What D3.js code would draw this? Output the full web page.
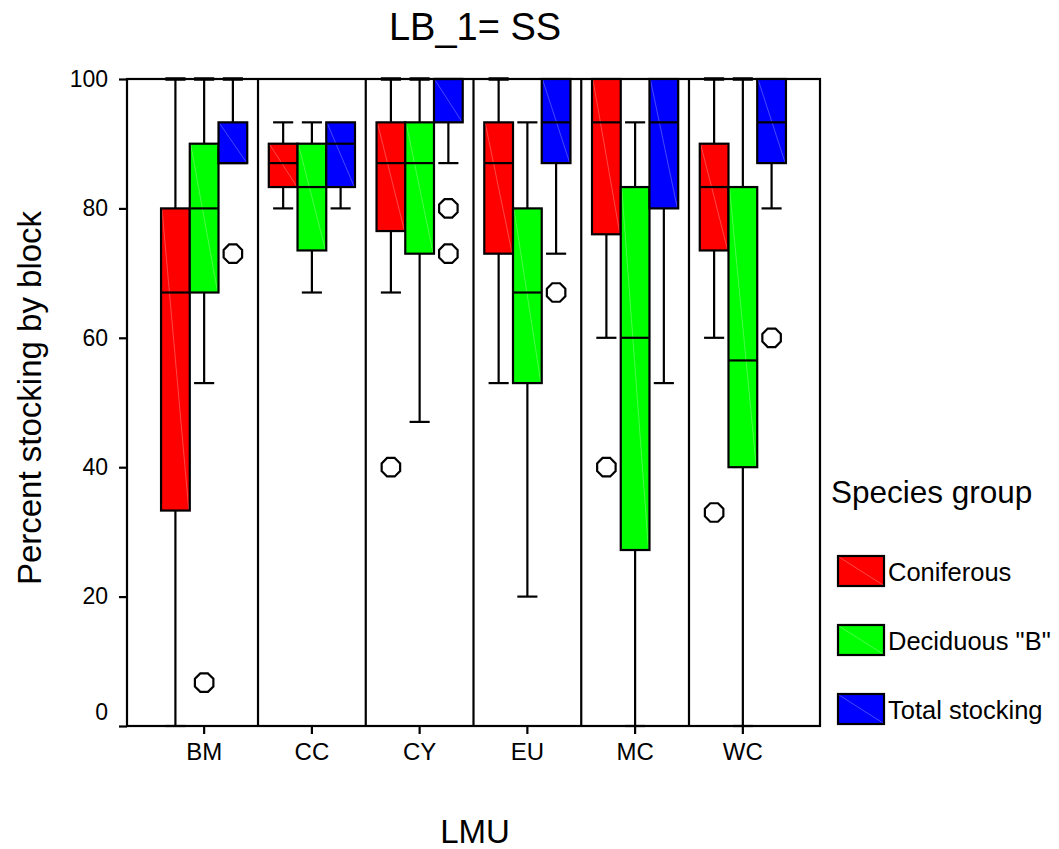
<!DOCTYPE html>
<html>
<head>
<meta charset="utf-8">
<script src="https://cdn.jsdelivr.net/npm/d3@7"></script>
<style>
  html, body { margin: 0; padding: 0; background: #fff; }
  svg { display: block; font-family: "Liberation Sans", Arial, sans-serif; }
</style>
</head>
<body>
<svg id="chart" width="1059" height="849"></svg>
<script>
// Land management units on the x axis
const categories = ["BM", "CC", "CY", "EU", "MC", "WC"];
// Species groups (one box per group in every unit)
const groups = ["Coniferous", "Deciduous \"B\"", "Total stocking"];
const groupColors = ["#ff0000", "#00ff00", "#0000ff"];
const yTicks = [0, 20, 40, 60, 80, 100];

// Five-number summaries per group, one value per unit
const coniferousLow    = [0, 80, 67, 53, 60, 60];
const coniferousQ1     = [33.3, 83.3, 76.5, 73, 76, 73.5];
const coniferousMedian = [67, 87, 87, 87, 93.3, 83.3];
const coniferousQ3     = [80, 90, 93.3, 93.3, 100, 90];
const coniferousHigh   = [100, 93.3, 100, 100, 100, 100];
const coniferousOut    = [[], [], [40], [], [40], [33]];

const deciduousLow     = [53, 67, 47, 20, 0, 0];
const deciduousQ1      = [67, 73.5, 73, 53, 27.2, 40];
const deciduousMedian  = [80, 83.3, 87, 67, 60, 56.5];
const deciduousQ3      = [90, 90, 93.3, 80, 83.3, 83.3];
const deciduousHigh    = [100, 93.3, 100, 93.3, 93.3, 100];
const deciduousOut     = [[6.7], [], [], [], [], []];

const totalLow         = [87, 80, 87, 73, 53, 80];
const totalQ1          = [87, 83.3, 93.3, 87, 80, 87];
const totalMedian      = [87, 90, 100, 93.3, 93.3, 93.3];
const totalQ3          = [93.3, 93.3, 100, 100, 100, 100];
const totalHigh        = [100, 93.3, 100, 100, 100, 100];
const totalOut         = [[73], [], [80, 73], [67], [], [60]];

const series = [
  { low: coniferousLow, q1: coniferousQ1, med: coniferousMedian, q3: coniferousQ3, high: coniferousHigh, out: coniferousOut },
  { low: deciduousLow,  q1: deciduousQ1,  med: deciduousMedian,  q3: deciduousQ3,  high: deciduousHigh,  out: deciduousOut },
  { low: totalLow,      q1: totalQ1,      med: totalMedian,      q3: totalQ3,      high: totalHigh,      out: totalOut }
];

const boxes = [];
series.forEach((s, gi) => {
  categories.forEach((c, ci) => {
    boxes.push({ cat: c, group: groups[gi], color: groupColors[gi],
      low: s.low[ci], q1: s.q1[ci], med: s.med[ci], q3: s.q3[ci], high: s.high[ci], out: s.out[ci] });
  });
});

const svg = d3.select("#chart");
const plot = { left: 127, right: 820, top: 79, bottom: 726 };

const x = d3.scaleBand().domain(categories).range([plot.left, plot.right])
  .paddingInner(0).paddingOuter(0.216);
const xg = d3.scaleBand().domain(groups).range([x.bandwidth() * 0.1, x.bandwidth() * 0.9]);
const y = d3.scaleLinear().domain([0, 100]).range([plot.bottom, plot.top]);

const ink = "#000";
const lw = 2.2;

// Frame and unit separators
const frame = svg.append("g");
frame.append("rect")
  .attr("x", plot.left).attr("y", plot.top)
  .attr("width", plot.right - plot.left).attr("height", plot.bottom - plot.top)
  .attr("fill", "none").attr("stroke", ink).attr("stroke-width", lw);
frame.selectAll("line.sep").data(categories.slice(1)).join("line")
  .attr("class", "sep")
  .attr("x1", d => x(d)).attr("x2", d => x(d))
  .attr("y1", plot.top).attr("y2", plot.bottom)
  .attr("stroke", ink).attr("stroke-width", lw);

// Axes
const yAxis = svg.append("g").attr("transform", `translate(${plot.left},0)`)
  .call(d3.axisLeft(y).tickValues(yTicks).tickSize(8).tickPadding(11));
yAxis.select(".domain").remove();
yAxis.selectAll(".tick line").attr("stroke", ink).attr("stroke-width", lw);
yAxis.selectAll(".tick text").attr("font-size", 23).attr("fill", ink)
  .attr("font-family", "Liberation Sans, Arial, sans-serif")
  .attr("y", d => d === 0 ? -14 : 0);

const xAxis = svg.append("g").attr("transform", `translate(0,${plot.bottom})`)
  .call(d3.axisBottom(x).tickSize(8).tickPadding(9));
xAxis.select(".domain").remove();
xAxis.selectAll(".tick line").attr("stroke", ink).attr("stroke-width", lw);
xAxis.selectAll(".tick text").attr("font-size", 24).attr("fill", ink)
  .attr("font-family", "Liberation Sans, Arial, sans-serif");

// Box plots
const bw = xg.bandwidth();
const capW = bw * 0.7;
const bg = svg.append("g");
const b = bg.selectAll("g.box").data(boxes).join("g")
  .attr("class", "box")
  .attr("transform", d => `translate(${x(d.cat) + xg(d.group)},0)`);

// whiskers
b.filter(d => d.high > d.q3).append("line")
  .attr("x1", bw / 2).attr("x2", bw / 2)
  .attr("y1", d => y(d.q3)).attr("y2", d => y(d.high))
  .attr("stroke", ink).attr("stroke-width", lw);
b.filter(d => d.high > d.q3).append("line")
  .attr("x1", bw / 2 - capW / 2).attr("x2", bw / 2 + capW / 2)
  .attr("y1", d => y(d.high)).attr("y2", d => y(d.high))
  .attr("stroke", ink).attr("stroke-width", d => d.high >= 100 ? 3.5 : lw);
b.filter(d => d.low < d.q1).append("line")
  .attr("x1", bw / 2).attr("x2", bw / 2)
  .attr("y1", d => y(d.q1)).attr("y2", d => y(d.low))
  .attr("stroke", ink).attr("stroke-width", lw);
b.filter(d => d.low < d.q1).append("line")
  .attr("x1", bw / 2 - capW / 2).attr("x2", bw / 2 + capW / 2)
  .attr("y1", d => y(d.low)).attr("y2", d => y(d.low))
  .attr("stroke", ink).attr("stroke-width", lw);

// box body
b.append("rect")
  .attr("x", 0).attr("width", bw)
  .attr("y", d => y(d.q3)).attr("height", d => y(d.q1) - y(d.q3))
  .attr("fill", d => d.color);
// faint diagonal sheen across each box
b.append("line")
  .attr("x1", 1).attr("x2", bw - 1)
  .attr("y1", d => y(d.q3) + 1).attr("y2", d => y(d.q1) - 1)
  .attr("stroke", "#ffffff").attr("stroke-opacity", 0.35).attr("stroke-width", 0.8);
b.append("rect")
  .attr("x", 0).attr("width", bw)
  .attr("y", d => y(d.q3)).attr("height", d => y(d.q1) - y(d.q3))
  .attr("fill", "none").attr("stroke", ink).attr("stroke-width", lw);
// median
b.append("line")
  .attr("x1", 0).attr("x2", bw)
  .attr("y1", d => y(d.med)).attr("y2", d => y(d.med))
  .attr("stroke", ink).attr("stroke-width", lw);

// outliers as octagons
const octagon = d3.lineRadial().curve(d3.curveLinearClosed)
  .angle((d, i) => Math.PI / 8 + i * Math.PI / 4).radius(10);
b.selectAll("path.out").data(d => d.out.map(v => ({ v }))).join("path")
  .attr("class", "out")
  .attr("transform", d => `translate(${bw / 2},${y(d.v)})`)
  .attr("d", octagon(d3.range(8)))
  .attr("fill", "#fff").attr("stroke", ink).attr("stroke-width", lw);

// Titles
svg.append("text").attr("x", 475).attr("y", 40).attr("text-anchor", "middle")
  .attr("font-size", 38).attr("fill", ink).text("LB_1= SS");
svg.append("text").attr("x", 475).attr("y", 843).attr("text-anchor", "middle")
  .attr("font-size", 33).attr("fill", ink).text("LMU");
svg.append("text").attr("transform", "translate(41,398) rotate(-90)")
  .attr("text-anchor", "middle").attr("font-size", 33).attr("fill", ink)
  .text("Percent stocking by block");

// Legend
const legend = svg.append("g");
legend.append("text").attr("x", 831).attr("y", 503)
  .attr("font-size", 31.5).attr("fill", ink).text("Species group");
const li = legend.selectAll("g.item").data(groups).join("g")
  .attr("class", "item")
  .attr("transform", (d, i) => `translate(838,${556 + i * 69})`);
li.append("rect").attr("width", 46).attr("height", 30)
  .attr("fill", (d, i) => groupColors[i]);
li.append("line").attr("x1", 1).attr("y1", 1).attr("x2", 45).attr("y2", 29)
  .attr("stroke", "#ffffff").attr("stroke-opacity", 0.35).attr("stroke-width", 0.8);
li.append("rect").attr("width", 46).attr("height", 30)
  .attr("fill", "none").attr("stroke", ink).attr("stroke-width", lw);
li.append("text").attr("x", 50).attr("y", 25)
  .attr("font-size", 25.5).attr("fill", ink).text(d => d);
</script>
</body>
</html>
